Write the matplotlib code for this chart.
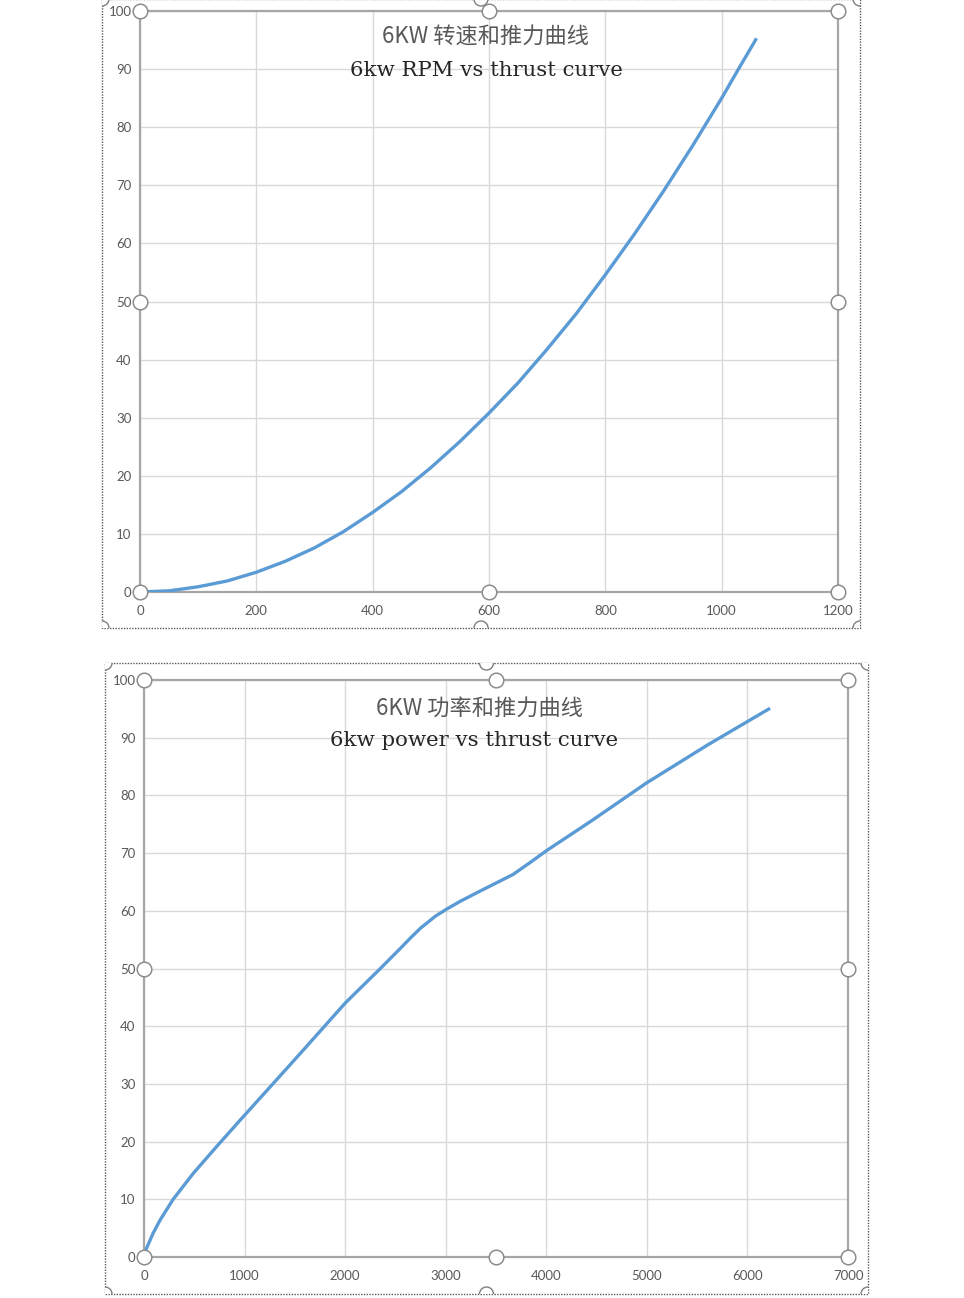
import matplotlib.pyplot as plt
from matplotlib.patches import Rectangle, Circle

# ==========================
# Data
# ==========================
rpm = [0, 50, 100, 150, 200, 250, 300, 350, 400, 450, 500, 550, 600,
       650, 700, 750, 800, 850, 900, 950, 1000, 1030, 1060]
rpm_thrust = [0, 0.2, 0.9, 1.9, 3.4, 5.3, 7.6, 10.4, 13.7, 17.3, 21.4, 25.9, 30.8,
              36.0, 41.8, 47.9, 54.6, 61.6, 69.0, 76.8, 85.0, 90.2, 95.3]

power = [0, 25, 90, 160, 290, 490, 720, 955, 1250, 1550, 2000, 2350, 2550, 2650,
         2750, 2900, 3010, 3150, 3340, 3670, 3850, 4000, 4450, 5000, 5600, 6000, 6225]
power_thrust = [0, 1.5, 4.1, 6.4, 10.0, 14.5, 19.1, 23.7, 29.4, 35.2, 44.0, 50.0, 53.5, 55.3,
                57.0, 59.1, 60.3, 61.7, 63.4, 66.3, 68.5, 70.4, 75.6, 82.2, 88.7, 92.8, 95.1]

rpm_ticks = [0, 200, 400, 600, 800, 1000, 1200]
power_ticks = [0, 1000, 2000, 3000, 4000, 5000, 6000, 7000]
y_ticks = list(range(0, 101, 10))

titles_cn = ["6KW 转速和推力曲线", "6KW 功率和推力曲线"]
titles_en = ["6kw RPM vs thrust curve", "6kw power vs thrust curve"]

W, H = 964, 1298
LINE = "#5b9bd5"
GRID = "#d9d9d9"
AXC = "#a6a6a6"
TXT = "#595959"

fig = plt.figure(figsize=(W / 100, H / 100), dpi=100)
fig.patch.set_facecolor("white")


def px_rect(x0, y0, x1, y1):
    return [x0 / W, 1 - y1 / H, (x1 - x0) / W, (y1 - y0) / H]


def make_chart(rect, xs, ys, xticks, cn, en, title_x, title_y):
    ax = fig.add_axes(px_rect(*rect))
    ax.plot(xs, ys, color=LINE, lw=2.4, solid_joinstyle="round",
            solid_capstyle="butt", zorder=3)
    ax.set_xlim(xticks[0], xticks[-1])
    ax.set_ylim(0, 100)
    ax.set_xticks(xticks)
    ax.set_yticks(y_ticks)
    ax.grid(True, color=GRID, lw=1.0)
    ax.set_axisbelow(True)
    for s in ax.spines.values():
        s.set_color(AXC)
        s.set_linewidth(1.6)
    ax.tick_params(length=0, labelcolor=TXT, labelsize=9.5)
    ax.tick_params(axis="y", pad=6)
    ax.tick_params(axis="x", pad=9)
    for lab in ax.get_xticklabels() + ax.get_yticklabels():
        lab.set_family("Lato")
    # plot-area selection handles
    ax.plot([0, 0.5, 1, 0, 1, 0, 0.5, 1], [1, 1, 1, 0.5, 0.5, 0, 0, 0], "o",
            transform=ax.transAxes, clip_on=False, ms=10.5, mfc="white",
            mec="#8c8c8c", mew=1.1, zorder=6)
    fig.text(title_x[0] / W, 1 - title_y[0] / H, cn, ha="center", va="center",
             color=TXT, fontsize=16, family=["Noto Sans CJK SC", "DejaVu Sans"])
    fig.text(title_x[1] / W, 1 - title_y[1] / H, en, ha="center", va="center",
             color="#262626", fontsize=15.3, family="DejaVu Serif")
    return ax


make_chart((140, 11, 838, 592), rpm, rpm_thrust, rpm_ticks,
           titles_cn[0], titles_en[0], (486, 486), (37, 71))
make_chart((144, 680, 848, 1257), power, power_thrust, power_ticks,
           titles_cn[1], titles_en[1], (480, 474), (708, 741))

# chart frames (dotted) with clipped handles, drawn in pixel space
over = fig.add_axes([0, 0, 1, 1], zorder=10)
over.set_xlim(0, W)
over.set_ylim(H, 0)
over.axis("off")
over.patch.set_alpha(0)

frames = [(102, -1, 860, 628), (105, 663, 868, 1294)]
for x0, y0, x1, y1 in frames:
    r = Rectangle((x0, y0), x1 - x0, y1 - y0, fill=False, ec="#595959",
                  lw=1.0, ls=(0, (1, 1)))
    over.add_patch(r)
    clip = Rectangle((x0, y0), x1 - x0, y1 - y0, transform=over.transData)
    xm = (x0 + x1) / 2
    for cx, cy in [(x0, y0), (xm, y0), (x1, y0), (x0, y1), (xm, y1), (x1, y1)]:
        c = Circle((cx, cy), 7, fc="white", ec="#7f7f7f", lw=1.0)
        over.add_patch(c)
        c.set_clip_path(clip)

fig.savefig("out.png", dpi=100)
